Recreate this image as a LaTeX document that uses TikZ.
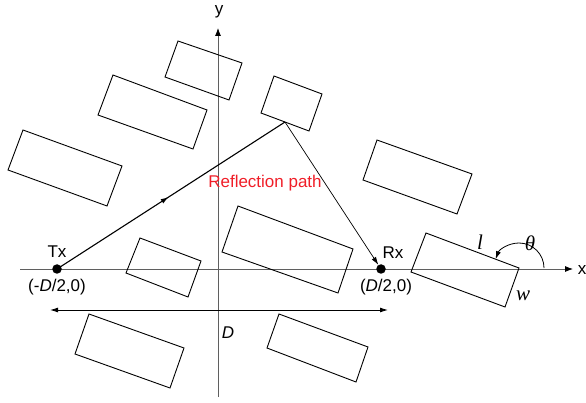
\documentclass[tikz,border=0pt]{standalone}
\usepackage{fontspec}
\setmainfont{Liberation Sans}
\newfontfamily\lserif{Liberation Serif}
\usetikzlibrary{arrows.meta,decorations.markings,calc}
\definecolor{axisgray}{RGB}{95,95,95}
\definecolor{pathred}{RGB}{240,30,40}
\begin{document}
\begin{tikzpicture}[x=1pt,y=-1pt,
  box/.style={draw=black,line width=0.9pt,line join=miter},
  axisline/.style={draw=axisgray,line width=0.8pt,arrows={-{Latex[length=8pt,width=6pt,fill=black,color=black]}}},
  tip/.style={-{Latex[length=8pt,width=5pt]}},
  lbl/.style={inner sep=0pt,font=\fontsize{17}{20}\selectfont},
  mlbl/.style={inner sep=0pt,font=\lserif\itshape\fontsize{21}{24}\selectfont},
  dot/.style={circle,fill=black,inner sep=0pt,minimum size=9.5pt}]
\useasboundingbox (0,0) rectangle (586,403);
% axes
\coordinate (xs) at (20,269);
\coordinate (xe) at (573,269);
\coordinate (ys) at (218,397);
\coordinate (ye) at (218,28);
\draw[axisline] (xs) -- (xe);
\draw[axisline] (ys) -- (ye);
\node[lbl] (xl) at (582,270) {x};
\node[lbl] (yl) at (219,12) {y};
% obstacles
\draw[box] (178,41) -- (242,63) -- (229,100) -- (165,77) -- cycle;
\draw[box] (113,75) -- (207,110) -- (193,149) -- (98,115) -- cycle;
\draw[box] (23,130) -- (122,166) -- (107,206) -- (8,170) -- cycle;
\draw[box] (274,76) -- (322,94) -- (309,131) -- (261,113) -- cycle;
\draw[box] (377,140) -- (472,174) -- (457,214) -- (363,180) -- cycle;
\draw[box] (140,238) -- (201,261) -- (188,297) -- (126,273) -- cycle;
\draw[box] (238,206) -- (353,249) -- (338,293) -- (222,252) -- cycle;
\draw[box] (89,314) -- (184,348) -- (170,388) -- (75,354) -- cycle;
\draw[box] (279,314) -- (368,347) -- (356,382) -- (267,348) -- cycle;
\coordinate (C) at (519,268);
\draw[box] (426,233) -- (C) -- (505,307) -- (411,272) -- cycle;
% angle
\draw[line width=0.8pt,tip] ($(C)+(25,0)$) arc[start angle=0,end angle=-159.4,radius=25];
\node[mlbl] (theta) at (530,243) {θ};
\node[mlbl] (ll) at (480,242) {l};
\node[mlbl] (ww) at (523,296) {w};
% Tx, Rx
\node[dot] (tx) at (57,269) {};
\node[dot] (rx) at (381,269) {};
\node[lbl] (txl) at (57,252) {Tx};
\node[lbl] (txc) at (57,287) {(-\textit{D}/2,0)};
\node[lbl] (rxl) at (393,253) {Rx};
\node[lbl] (rxc) at (386,287) {(\textit{D}/2,0)};
% reflection path
\coordinate (refl) at (285,122);
\draw[line width=1.1pt,postaction={decorate},
  decoration={markings,mark=at position 0.49 with {\arrow{Latex[length=8pt,width=5pt]}}}]
  (tx.center) -- (refl);
\draw[line width=0.7pt,tip] (refl) -- (rx);
\node[lbl,text=pathred] (rp) at (265,183) {Reflection path};
% distance D
\coordinate (da) at (50,310);
\coordinate (db) at (388,310);
\draw[line width=0.9pt,{Latex[length=8pt,width=5pt]}-{Latex[length=8pt,width=5pt]}] (da) -- (db);
\node[lbl] (dl) at (228,333) {\textit{D}};
\end{tikzpicture}
\end{document}
